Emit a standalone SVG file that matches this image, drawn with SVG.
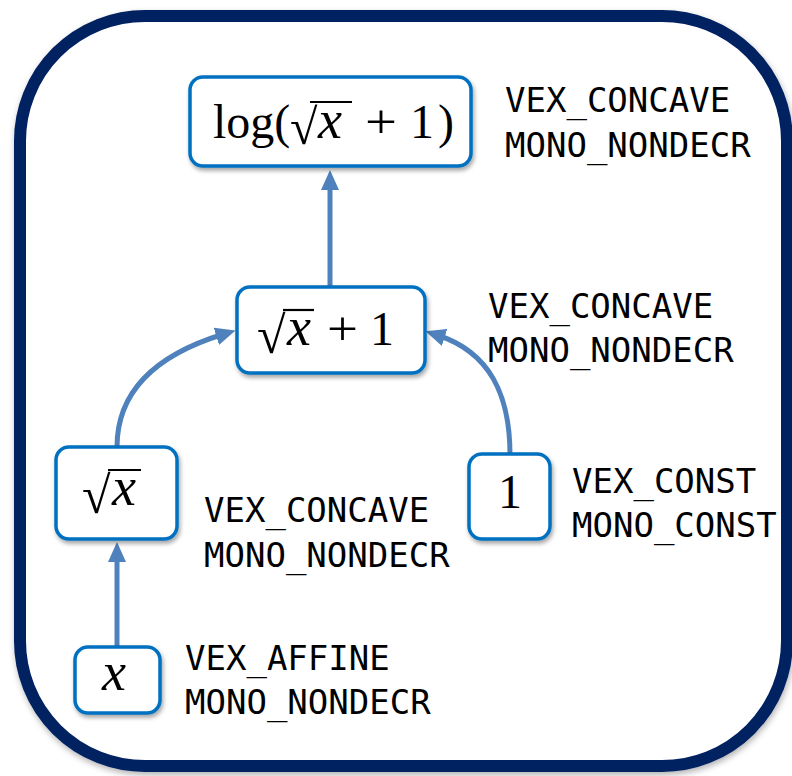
<svg xmlns="http://www.w3.org/2000/svg" width="792" height="776" viewBox="0 0 792 776">
<defs>
<style>
.node rect{fill:#fff;stroke:#0070C0;stroke-width:3.5;filter:url(#sh)}
.m{font-family:"Liberation Serif","Times New Roman",serif;font-size:48px;fill:#000}
.rad{font-family:"Liberation Serif","Times New Roman",serif;font-size:52px;fill:#000}
.mi{font-family:"Liberation Serif","Times New Roman",serif;font-size:54px;font-style:italic;fill:#000}
.vin{stroke:#000;stroke-width:2.2}
.lbl{font-family:"DejaVu Sans Mono",monospace;font-size:34px;fill:#000}
.conn path{fill:none;stroke:#4F81BD;stroke-width:5;marker-end:url(#ah)}
</style>
<filter id="sh" x="-20%" y="-20%" width="140%" height="150%">
<feDropShadow dx="1.5" dy="3" stdDeviation="2" flood-color="#000" flood-opacity="0.35"/>
</filter>
<filter id="fsh" x="-5%" y="-5%" width="110%" height="110%">
<feDropShadow dx="1" dy="3" stdDeviation="3" flood-color="#000" flood-opacity="0.3"/>
</filter>
<marker id="ah" markerUnits="userSpaceOnUse" markerWidth="20" markerHeight="18" refX="8" refY="9" orient="auto" viewBox="0 0 20 18">
<path d="M0,0 L20,9 L0,18 z" fill="#4F81BD"/>
</marker>
</defs>
<rect x="0" y="0" width="792" height="776" fill="#fff"/>
<rect id="frame" x="20" y="16" width="767" height="750" rx="125" ry="125" fill="#fff" stroke="#002060" stroke-width="12" filter="url(#fsh)"/>

<g class="conn" id="connectors">
<path d="M330,287 L330,182"/>
<path d="M117,647 L117,554"/>
<path d="M117,447 C117,385 165,352 224,334"/>
<path d="M510,455 C510,395 490,352 437,335"/>
</g>

<g class="node" id="n-log">
<rect x="190" y="77" width="281" height="89" rx="13"/>
<text class="m" x="213" y="138">log(</text>
<text class="rad" x="290" y="144" style="font-size:50px">√</text>
<line class="vin" x1="310" y1="102" x2="352" y2="102"/>
<text class="mi" x="318" y="138">x</text>
<text class="m" x="365" y="138" textLength="32" lengthAdjust="spacingAndGlyphs">+</text>
<text class="m" x="410" y="138">1</text>
<text class="m" x="438" y="138">)</text>
</g>
<g id="l-log">
<text class="lbl" x="505" y="112">VEX_CONCAVE</text>
<text class="lbl" x="505" y="157">MONO_NONDECR</text>
</g>

<g class="node" id="n-sum">
<rect x="237" y="287" width="188" height="86" rx="13"/>
<text class="rad" x="257" y="353">√</text>
<line class="vin" x1="283" y1="310" x2="314" y2="310"/>
<text class="mi" x="287" y="345">x</text>
<text class="m" x="327" y="345" textLength="31" lengthAdjust="spacingAndGlyphs">+</text>
<text class="m" x="370" y="345">1</text>
</g>
<g id="l-sum">
<text class="lbl" x="488" y="318">VEX_CONCAVE</text>
<text class="lbl" x="488" y="362">MONO_NONDECR</text>
</g>

<g class="node" id="n-sqrt">
<rect x="56" y="447" width="121" height="92" rx="13"/>
<text class="rad" x="82" y="513">√</text>
<line class="vin" x1="108" y1="470" x2="141" y2="470"/>
<text class="mi" x="112" y="505">x</text>
</g>
<g id="l-sqrt">
<text class="lbl" x="204" y="522">VEX_CONCAVE</text>
<text class="lbl" x="204" y="567">MONO_NONDECR</text>
</g>

<g class="node" id="n-one">
<rect x="469" y="454" width="81" height="85" rx="13"/>
<text class="m" x="498" y="508">1</text>
</g>
<g id="l-one">
<text class="lbl" x="572" y="493">VEX_CONST</text>
<text class="lbl" x="572" y="537">MONO_CONST</text>
</g>

<g class="node" id="n-x">
<rect x="75" y="647" width="85" height="66" rx="13"/>
<text class="mi" x="102" y="690">x</text>
</g>
<g id="l-x">
<text class="lbl" x="185" y="670">VEX_AFFINE</text>
<text class="lbl" x="185" y="714">MONO_NONDECR</text>
</g>
</svg>
